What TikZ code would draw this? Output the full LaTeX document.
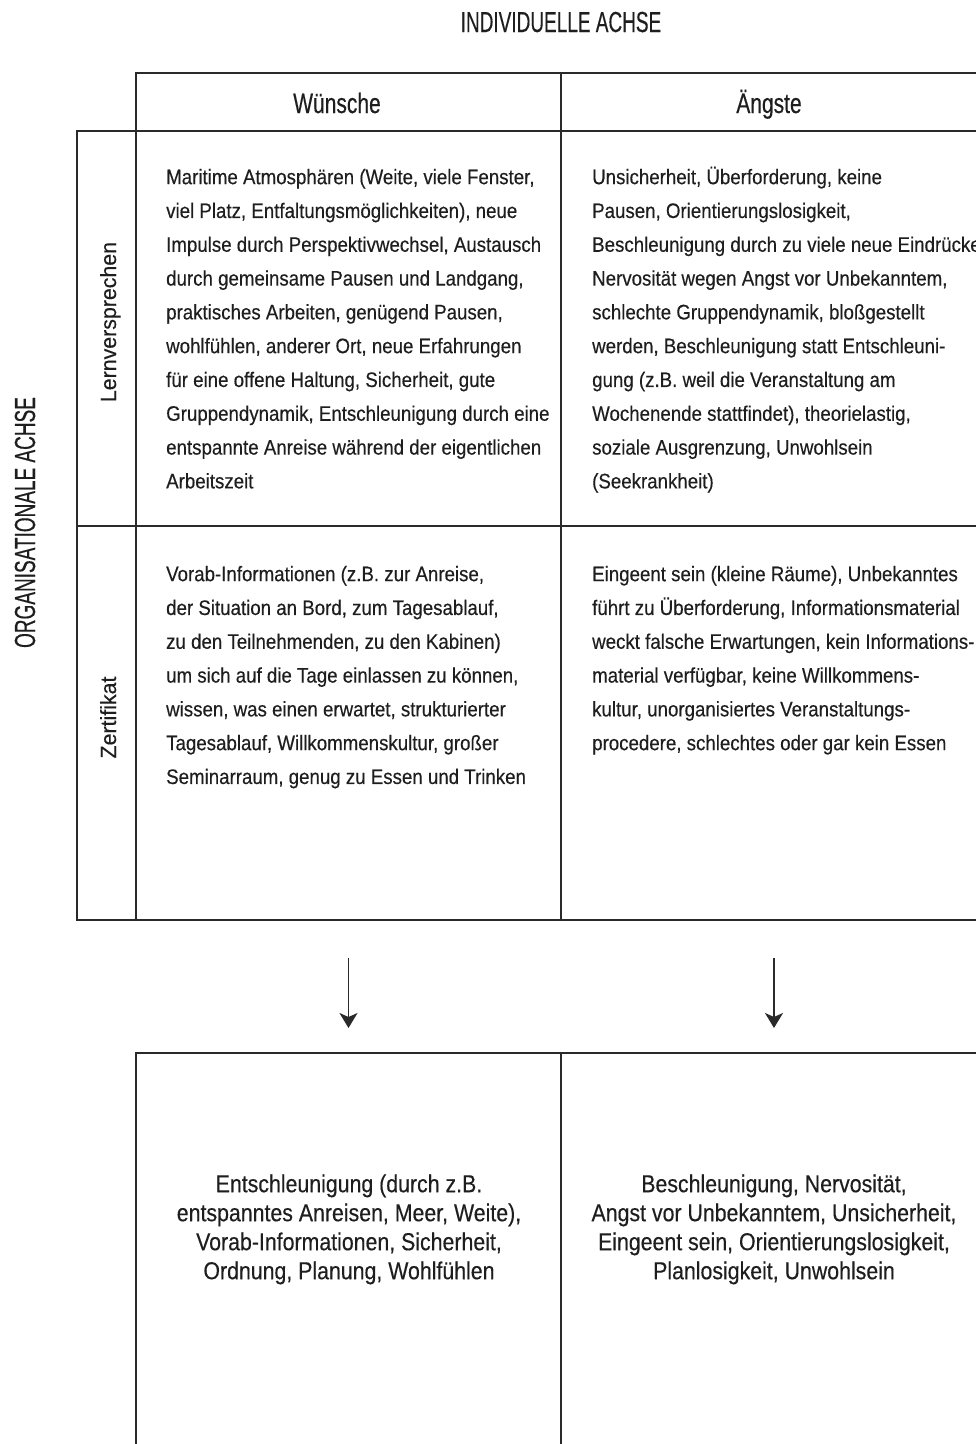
\documentclass[tikz,border=0pt]{standalone}
\usepackage{fontspec}
\setmainfont{Liberation Sans}
% narrow cuts of one sans family for the different text roles
\newfontfamily\bodyfont[FakeStretch=0.89,FakeBold=0.35]{Liberation Sans}
\newfontfamily\headfont[FakeStretch=0.75,FakeBold=0.35]{Liberation Sans}
\newfontfamily\axisfont[FakeStretch=0.655,FakeBold=0.35]{Liberation Sans}
\newfontfamily\sumfont[FakeStretch=0.87,FakeBold=0.35]{Liberation Sans}
\newfontfamily\rowfont[FakeStretch=0.97,FakeBold=0.35]{Liberation Sans}
\usetikzlibrary{arrows.meta}

\definecolor{linec}{HTML}{2A2A2A}
\definecolor{textc}{HTML}{1E1E1E}

\newcommand\bodysize{\bodyfont\fontsize{21pt}{33.8pt}\selectfont}
\newcommand\sumsize{\sumfont\fontsize{24.5pt}{29pt}\selectfont}

\tikzset{
  cell/.style={draw=linec, line width=1.9pt, inner sep=0pt, outer sep=0pt,
    anchor=north west},
  body/.style={font=\bodysize, text=textc, align=left, inner sep=0pt,
    anchor=north west},
  summary/.style={font=\sumsize, text=textc, align=center, inner sep=0pt,
    anchor=north},
  colhead/.style={font=\headfont\fontsize{28pt}{32pt}\selectfont, text=textc,
    inner sep=0pt, anchor=base},
  axis/.style={font=\axisfont\fontsize{29pt}{33pt}\selectfont, text=textc,
    inner sep=0pt, anchor=base},
  rowhead/.style={font=\rowfont\fontsize{22pt}{26pt}\selectfont, text=textc,
    inner sep=0pt, anchor=base, rotate=90},
  arr/.style={draw=linec, line width=1.9pt,
    -{Stealth[length=15pt,width=18pt,inset=4pt]}},
}

\begin{document}
\begin{tikzpicture}[x=1pt,y=-1pt]
\useasboundingbox (0,0) rectangle (976,1444);
\clip (0,0) rectangle (976,1444);

% axis titles
\node[axis] (indiv) at (561,32) {INDIVIDUELLE ACHSE};
\node[axis, rotate=90] (orga) at (35,522.5) {ORGANISATIONALE ACHSE};

% column heads
\node[cell, minimum width=425pt, minimum height=58pt] (hW) at (136,73) {};
\node[cell, minimum width=426pt, minimum height=58pt] (hA) at (561,73) {};
\node[colhead] (tW) at (337,113) {Wünsche};
\node[colhead] (tA) at (769,113) {Ängste};

% row heads
\node[cell, minimum width=59pt, minimum height=395pt] (rL) at (77,131) {};
\node[cell, minimum width=59pt, minimum height=394pt] (rZ) at (77,526) {};
\node[rowhead] (tL) at (116,322) {Lernversprechen};
\node[rowhead] (tZ) at (116,717.5) {Zertifikat};

% matrix cells
\node[cell, minimum width=425pt, minimum height=395pt] (c11) at (136,131) {};
\node[cell, minimum width=426pt, minimum height=395pt] (c12) at (561,131) {};
\node[cell, minimum width=425pt, minimum height=394pt] (c21) at (136,526) {};
\node[cell, minimum width=426pt, minimum height=394pt] (c22) at (561,526) {};

\node[body] (t11) at (166,160.3) {\strut Maritime Atmosphären (Weite, viele Fenster,\\
viel Platz, Entfaltungsmöglichkeiten), neue\\
Impulse durch Perspektivwechsel, Austausch\\
durch gemeinsame Pausen und Landgang,\\
praktisches Arbeiten, genügend Pausen,\\
wohlfühlen, anderer Ort, neue Erfahrungen\\
für eine offene Haltung, Sicherheit, gute\\
Gruppendynamik, Entschleunigung durch eine\\
entspannte Anreise während der eigentlichen\\
Arbeitszeit};

\node[body] (t12) at (592,160.3) {\strut Unsicherheit, Überforderung, keine\\
Pausen, Orientierungslosigkeit,\\
Beschleunigung durch zu viele neue Eindrücke,\\
Nervosität wegen Angst vor Unbekanntem,\\
schlechte Gruppendynamik, bloßgestellt\\
werden, Beschleunigung statt Entschleuni-\\
gung (z.B. weil die Veranstaltung am\\
Wochenende stattfindet), theorielastig,\\
soziale Ausgrenzung, Unwohlsein\\
(Seekrankheit)};

\node[body] (t21) at (166,557.3) {\strut Vorab-Informationen (z.B. zur Anreise,\\
der Situation an Bord, zum Tagesablauf,\\
zu den Teilnehmenden, zu den Kabinen)\\
um sich auf die Tage einlassen zu können,\\
wissen, was einen erwartet, strukturierter\\
Tagesablauf, Willkommenskultur, großer\\
Seminarraum, genug zu Essen und Trinken};

\node[body] (t22) at (592,557.3) {\strut Eingeent sein (kleine Räume), Unbekanntes\\
führt zu Überforderung, Informationsmaterial\\
weckt falsche Erwartungen, kein Informations-\\
material verfügbar, keine Willkommens-\\
kultur, unorganisiertes Veranstaltungs-\\
procedere, schlechtes oder gar kein Essen};

% summary boxes
\node[cell, minimum width=425pt, minimum height=420pt] (b1) at (136,1053) {};
\node[cell, minimum width=426pt, minimum height=420pt] (b2) at (561,1053) {};

\node[summary] (s1) at (349,1171.7) {\strut Entschleunigung (durch z.B.\\
entspanntes Anreisen, Meer, Weite),\\
Vorab-Informationen, Sicherheit,\\
Ordnung, Planung, Wohlfühlen};

\node[summary] (s2) at (774,1171.7) {\strut Beschleunigung, Nervosität,\\
Angst vor Unbekanntem, Unsicherheit,\\
Eingeent sein, Orientierungslosigkeit,\\
Planlosigkeit, Unwohlsein};

% arrows from the matrix to the summaries
\draw[arr] ([yshift=-38pt]c21.south) -- ([yshift=25pt]b1.north);
\draw[arr] ([yshift=-38pt]c22.south) -- ([yshift=25pt]b2.north);
\end{tikzpicture}
\end{document}
